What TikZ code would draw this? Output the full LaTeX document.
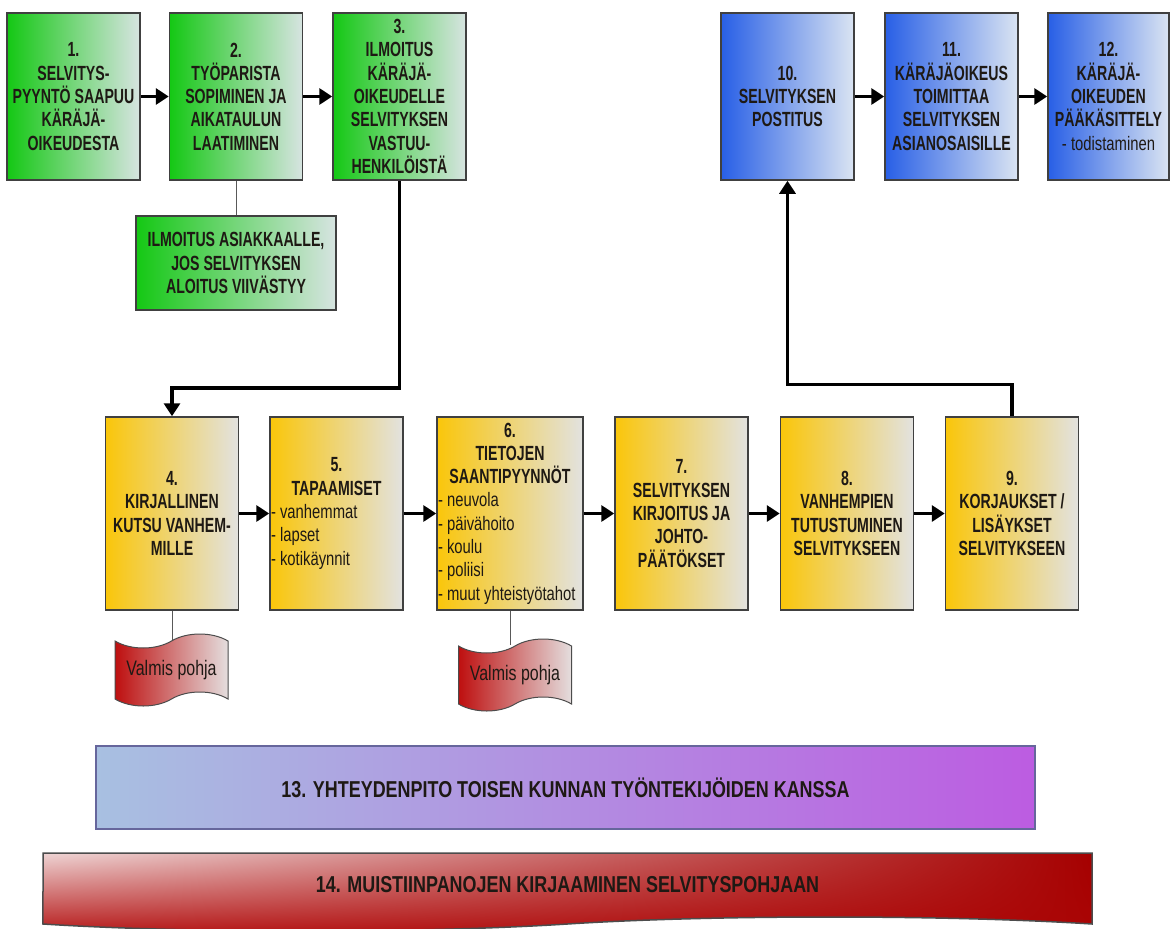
\documentclass[tikz,border=0pt]{standalone}
\usepackage{fontspec}
\usetikzlibrary{arrows.meta,positioning,calc,shapes.symbols,shadings}
\newfontfamily\boxfont[FakeStretch=0.69]{Liberation Sans}
\newfontfamily\listfont[FakeStretch=0.76]{Liberation Sans}
\newfontfamily\barfont[FakeStretch=0.78]{Liberation Sans}
\definecolor{courtA}{RGB}{20,200,20}
\definecolor{courtB}{RGB}{215,228,225}
\definecolor{postA}{RGB}{40,95,230}
\definecolor{postB}{RGB}{218,228,242}
\definecolor{workA}{RGB}{250,198,10}
\definecolor{workB}{RGB}{226,226,224}
\definecolor{tapeA}{RGB}{190,15,15}
\definecolor{tapeB}{RGB}{228,222,222}
\definecolor{contactA}{RGB}{168,192,225}
\definecolor{contactB}{RGB}{188,92,225}
\definecolor{notesUL}{RGB}{238,212,212}
\definecolor{notesLL}{RGB}{182,25,25}
\definecolor{notesUR}{RGB}{165,0,0}
\definecolor{notesLR}{RGB}{170,5,5}
\definecolor{inktext}{RGB}{30,25,20}
\newcommand\li[2]{\makebox[#1][l]{\listfont\mdseries\fontsize{19.5}{23.3}\selectfont - #2}}
\tikzset{
  stage/.style   = {rectangle, draw=black!75, line width=1.5pt, inner sep=1pt,
                    align=center, text=inktext,
                    font=\boxfont\bfseries\fontsize{20.5}{23.3}\selectfont,
                    minimum width=133pt, minimum height=167pt},
  court/.style   = {stage, left color=courtA, right color=courtB},
  post/.style    = {stage, left color=postA, right color=postB},
  work/.style    = {stage, left color=workA, right color=workB, minimum height=193pt},
  doc/.style     = {tape, draw=black!70, line width=1pt, inner sep=1pt,
                    tape bend top=in and out, tape bend bottom=in and out,
                    tape bend height=14pt, minimum width=113pt, minimum height=72pt,
                    left color=tapeA, right color=tapeB, text=inktext,
                    font=\listfont\fontsize{21}{24}\selectfont},
  contact/.style = {rectangle, draw=black!65!blue!60, line width=1.5pt,
                    minimum width=939pt, minimum height=83pt,
                    left color=contactA, right color=contactB, text=inktext,
                    font=\barfont\bfseries\fontsize{23}{26}\selectfont},
  notes/.style   = {tape, draw=black!70, line width=1.5pt,
                    tape bend top=none, tape bend bottom=in and out,
                    tape bend height=14pt, minimum width=1049pt, minimum height=78pt,
                    upper left=notesUL, lower left=notesLL,
                    upper right=notesUR, lower right=notesLR, text=inktext,
                    font=\barfont\bfseries\fontsize{23}{26}\selectfont},
  flow/.style    = {-{Triangle[length=13pt,width=16pt]}, line width=3.5pt, draw=black},
  link/.style    = {line width=1pt, draw=black!65}
}

\begin{document}
\begin{tikzpicture}[x=1pt,y=-1pt]
\path[use as bounding box, fill=white] (0,0) rectangle (1171,929);

% court: request and responsible persons
\node[court] (b1) at (73.5,96.5) {1.\\SELVITYS-\\PYYNTÖ SAAPUU\\KÄRÄJÄ-\\OIKEUDESTA};
\node[court] (b2) at (236,96.5) {2.\\TYÖPARISTA\\SOPIMINEN JA\\AIKATAULUN\\LAATIMINEN};
\node[court] (b3) at (399.5,96.5) {3.\\ILMOITUS\\KÄRÄJÄ-\\OIKEUDELLE\\SELVITYKSEN\\VASTUU-\\HENKILÖISTÄ};
\node[court, minimum width=200pt, minimum height=94pt] (note) at (236,263)
  {ILMOITUS ASIAKKAALLE,\\JOS SELVITYKSEN\\ALOITUS VIIVÄSTYY};

% posting and main hearing
\node[post] (b10) at (787.5,96.5) {10.\\SELVITYKSEN\\POSTITUS};
\node[post] (b11) at (951.5,96.5) {11.\\KÄRÄJÄOIKEUS\\TOIMITTAA\\SELVITYKSEN\\ASIANOSAISILLE};
\node[post, minimum width=121pt] (b12) at (1108.5,96.5)
  {12.\\KÄRÄJÄ-\\OIKEUDEN\\PÄÄKÄSITTELY\\{\listfont\mdseries\fontsize{19.5}{23.3}\selectfont - todistaminen}};

% work phase
\node[work] (b4) at (172,513.5) {4.\\KIRJALLINEN\\KUTSU VANHEM-\\MILLE};
\node[work] (b5) at (336.5,513.5)
  {5.\\TAPAAMISET\\\li{131pt}{vanhemmat}\\\li{131pt}{lapset}\\\li{131pt}{kotikäynnit}};
\node[work, minimum width=146pt] (b6) at (510,513.5)
  {6.\\TIETOJEN\\SAANTIPYYNNÖT\\\li{144pt}{neuvola}\\\li{144pt}{päivähoito}\\\li{144pt}{koulu}\\\li{144pt}{poliisi}\\\li{144pt}{muut yhteistyötahot}};
\node[work] (b7) at (681.5,513.5) {7.\\SELVITYKSEN\\KIRJOITUS JA\\JOHTO-\\PÄÄTÖKSET};
\node[work] (b8) at (847,513.5) {8.\\VANHEMPIEN\\TUTUSTUMINEN\\SELVITYKSEEN};
\node[work] (b9) at (1012,513.5) {9.\\KORJAUKSET /\\LISÄYKSET\\SELVITYKSEEN};

% templates
\node[doc] (d1) at (171.5,670) {Valmis pohja};
\node[doc] (d2) at (515,675) {Valmis pohja};

% running tasks
\node[contact] (c13) at (565.5,787.5) {13. YHTEYDENPITO TOISEN KUNNAN TYÖNTEKIJÖIDEN KANSSA};
\node[notes] (c14) at (567.5,885) {14. MUISTIINPANOJEN KIRJAAMINEN SELVITYSPOHJAAN};

% connections
\foreach \a/\b in {b1/b2, b2/b3, b10/b11, b11/b12, b4/b5, b5/b6, b6/b7, b7/b8, b8/b9}
  \draw[flow] (\a.east) -- (\b.west);
\draw[flow] (b3.south) -- ++(0,207) -| (b4.north);
\draw[flow] (b9.north) -- ++(0,-32) -| (b10.south);
\draw[link] (b2.south) -- (note.north);
\draw[link] (b4.south) -- (b4.south |- d1.north);
\draw[link] (b6.south) -- (b6.south |- d2.north);

\end{tikzpicture}
\end{document}
